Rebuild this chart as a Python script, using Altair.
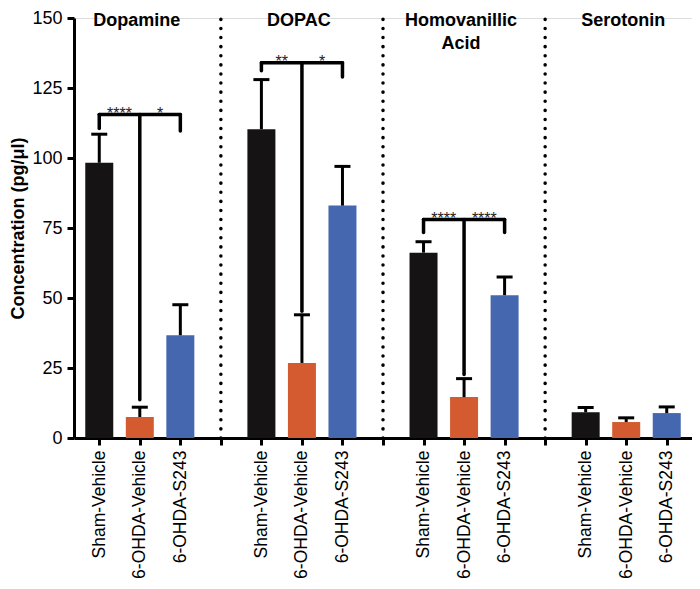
import altair as alt
import pandas as pd

# ---- data ----
groups = ["Dopamine", "DOPAC", "Homovanillic\nAcid", "Serotonin"]
conditions = ["Sham-Vehicle", "6-OHDA-Vehicle", "6-OHDA-S243"]
colors = ["#151314", "#d35b2f", "#4467b0"]

dopamine_mean = [98.3, 7.5, 36.7]
dopamine_upper = [108.5, 11.0, 47.6]
dopac_mean = [110.3, 26.8, 83.0]
dopac_upper = [128.0, 44.0, 97.0]
hva_mean = [66.2, 14.6, 51.0]
hva_upper = [70.1, 21.2, 57.5]
serotonin_mean = [9.2, 5.7, 8.9]
serotonin_upper = [10.9, 7.2, 11.1]

# significance brackets (groups 0..2)
bracket_level = [115.5, 134.0, 78.0]
left_leg_end = [110.5, 131.2, 73.4]
right_leg_end = [109.6, 128.9, 73.4]
middle_end = [13.7, 45.3, 22.7]
stars_left = ["****", "**", "****"]
stars_right = ["*", "*", "****"]

y_ticks = [0, 25, 50, 75, 100, 125, 150]

# ---- build tables ----
means = [dopamine_mean, dopac_mean, hva_mean, serotonin_mean]
uppers = [dopamine_upper, dopac_upper, hva_upper, serotonin_upper]

rows = []
for g, grp in enumerate(groups):
    for c, cond in enumerate(conditions):
        rows.append({"slot": g * 4 + c, "group": grp, "cond": cond,
                     "mean": means[g][c], "upper": uppers[g][c]})
bars = pd.DataFrame(rows)

n_slots = len(groups) * 4 - 1
slot_labels = []
for i in range(n_slots):
    slot_labels.append("" if i % 4 == 3 else conditions[i % 4])
label_expr = "[" + ",".join("'" + s + "'" for s in slot_labels) + "][datum.value]"

seps = pd.DataFrame({"slot": [g * 4 + 3 for g in range(len(groups) - 1)],
                     "mean": [0] * (len(groups) - 1),
                     "y1": [150] * (len(groups) - 1)})

titles = pd.DataFrame({"slot": [g * 4 + 1 for g in range(len(groups))],
                       "mean": [150] * len(groups),
                       "t": groups})

br = []
st = []
for g in range(len(bracket_level)):
    l, m, r = g * 4, g * 4 + 1, g * 4 + 2
    b = bracket_level[g]
    br.append({"slot": l, "x2": r, "mean": b, "y2": b})
    br.append({"slot": l, "x2": l, "mean": b, "y2": left_leg_end[g]})
    br.append({"slot": r, "x2": r, "mean": b, "y2": right_leg_end[g]})
    br.append({"slot": m, "x2": m, "mean": b, "y2": middle_end[g]})
    st.append({"slot": (l + m) / 2, "mean": b, "s": stars_left[g]})
    st.append({"slot": (m + r) / 2, "mean": b, "s": stars_right[g]})
brackets = pd.DataFrame(br)
stars = pd.DataFrame(st)

# ---- scales ----
xs = alt.Scale(domain=[-0.5, n_slots - 0.5], nice=False, zero=False)
ys = alt.Scale(domain=[0, 150], nice=False)
FONT = "Liberation Sans"

X = alt.X("slot:Q", scale=xs, title=None,
          axis=alt.Axis(values=list(range(n_slots)), labelExpr=label_expr,
                        labelAngle=-90, labelFontSize=17.5, labelColor="black",
                        labelFont=FONT, labelPadding=5, labelOverlap=False,
                        labelFlush=False, labelBound=False,
                        tickSize=7, tickWidth=3, tickColor="black",
                        domainWidth=3, domainColor="black", grid=False))
Y = alt.Y("mean:Q", scale=ys, title="Concentration (pg/μl)",
          axis=alt.Axis(values=y_ticks, labelFontSize=18, labelColor="black",
                        labelFont=FONT, labelPadding=5,
                        tickSize=7, tickWidth=3, tickColor="black",
                        domainWidth=3, domainColor="black", grid=False,
                        titleFont=FONT, titleFontSize=18, titleFontWeight="bold",
                        titleColor="black", titlePadding=4))

bar_layer = alt.Chart(bars).mark_bar(size=28, orient="vertical").encode(
    x=X, y=Y,
    color=alt.Color("cond:N", scale=alt.Scale(domain=conditions, range=colors),
                    legend=None),
)

err_layer = alt.Chart(bars).mark_rule(color="black", strokeWidth=3).encode(
    x=X, y=Y, y2="upper:Q",
)

cap_layer = alt.Chart(bars).mark_tick(color="black", orient="horizontal",
                                      size=16, thickness=3, opacity=1).encode(
    x=X, y=alt.Y("upper:Q", scale=ys, title="Concentration (pg/μl)"),
)

sep_layer = alt.Chart(seps).mark_rule(color="black", strokeWidth=3.5,
                                      strokeDash=[0.1, 9], strokeCap="round").encode(
    x=X, y=Y, y2="y1:Q",
)

bracket_layer = alt.Chart(brackets).mark_rule(color="black", strokeWidth=3.5,
                                              strokeCap="round").encode(
    x=X, x2="x2:Q", y=Y, y2="y2:Q",
)

star_layer = alt.Chart(stars).mark_text(fontSize=16, font=FONT, color="#222222",
                                        align="center", baseline="alphabetic",
                                        dy=4).encode(
    x=X, y=Y, text="s:N",
)

title_layer = alt.Chart(titles).mark_text(fontSize=18, font=FONT, fontWeight="bold",
                                          color="black", align="center",
                                          baseline="alphabetic", dy=8, dx=-3,
                                          lineBreak="\n", lineHeight=23).encode(
    x=X, y=Y, text="t:N",
)

chart = alt.layer(bar_layer, err_layer, cap_layer, sep_layer, bracket_layer,
                  star_layer, title_layer).properties(
    width=618, height=420,
    autosize=alt.AutoSizeParams(type="none"),
    padding={"left": 66, "top": 10, "right": 0, "bottom": 143},
    background="white",
).configure_view(stroke=None).configure(font=FONT)

chart.save("out.html", embed_options={"renderer": "svg", "actions": False})
